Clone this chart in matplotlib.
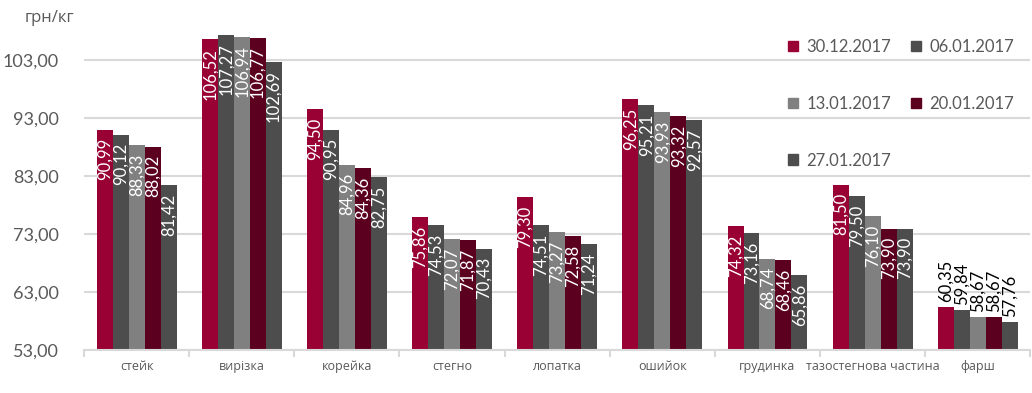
import matplotlib
matplotlib.use("Agg")
import matplotlib.pyplot as plt
from matplotlib.patches import Patch
import numpy as np

categories = ["стейк", "вирізка", "корейка", "стегно", "лопатка", "ошийок",
              "грудинка", "тазостегнова частина", "фарш"]
series_names = ["30.12.2017", "06.01.2017", "13.01.2017", "20.01.2017", "27.01.2017"]
s1 = [90.99, 106.52, 94.50, 75.86, 79.30, 96.25, 74.32, 81.50, 60.35]
s2 = [90.12, 107.27, 90.95, 74.53, 74.51, 95.21, 73.16, 79.50, 59.84]
s3 = [88.33, 106.94, 84.96, 72.07, 73.27, 93.93, 68.74, 76.10, 58.67]
s4 = [88.02, 106.77, 84.36, 71.87, 72.58, 93.32, 68.46, 73.90, 58.67]
s5 = [81.42, 102.69, 82.75, 70.43, 71.24, 92.57, 65.86, 73.90, 57.76]
yticks = [53, 63, 73, 83, 93, 103]

series = [s1, s2, s3, s4, s5]
colors = ["#990033", "#4d4d4d", "#808080", "#5c0020", "#4d4d4d"]

num_font = ["Lato", "Open Sans", "DejaVu Sans"]
cyr_font = ["Open Sans", "DejaVu Sans"]
plt.rcParams['font.family'] = num_font

fig = plt.figure(figsize=(10.32, 3.93), dpi=100)
ax = fig.add_axes([0.0814, 0.1094, 0.917, 0.827])

n = len(categories)
x = np.arange(n)
bw = 0.152
ymin = 53
for i, (vals, c) in enumerate(zip(series, colors)):
    pos = x + (i - 2) * bw
    heights = [v - ymin for v in vals]
    ax.bar(pos, heights, width=bw, bottom=ymin, color=c, zorder=2)
    for px, v in zip(pos, vals):
        lab = f"{v:.2f}".replace(".", ",")
        if v - ymin > 12:
            ax.annotate(lab, (px, v), xytext=(0, -6), textcoords="offset points",
                        rotation=90, ha="center", va="top", color="white",
                        fontsize=12, zorder=3)
        else:
            ax.annotate(lab, (px, v), xytext=(0, 4), textcoords="offset points",
                        rotation=90, ha="center", va="bottom", color="black",
                        fontsize=12, zorder=3)

ax.set_xlim(-0.5, n - 0.5)
ax.set_ylim(53, 109.0)
ax.set_yticks(yticks)
ax.set_yticklabels([f"{t:.2f}".replace(".", ",") for t in yticks],
                   fontsize=13, color="#595959")
ax.yaxis.grid(True, color="#d9d9d9", linewidth=1.5, zorder=0)
ax.set_axisbelow(True)
ax.tick_params(axis="y", length=0, pad=18)

ax.set_xticks(x)
ax.set_xticklabels(categories, fontsize=9, color="#595959", family=cyr_font)
ax.tick_params(axis="x", length=0, pad=7)
ax.set_xticks(np.arange(-0.5, n, 1.0), minor=True)
ax.tick_params(axis="x", which="minor", length=5, color="#d9d9d9", width=1.5)

for s in ["top", "right", "left"]:
    ax.spines[s].set_visible(False)
ax.spines["bottom"].set_color("#d9d9d9")
ax.spines["bottom"].set_linewidth(1.5)

fig.text(0.024, 0.955, "грн/кг", fontsize=12, color="#595959", family=cyr_font,
         va="center", ha="left")

handles = [Patch(color=c) for c in colors]
order = [0, 2, 4, 1, 3]
leg = ax.legend([handles[i] for i in order], [series_names[i] for i in order],
                ncol=2, loc="upper left", bbox_to_anchor=(0.757, 0.918),
                bbox_transform=fig.transFigure, frameon=False, fontsize=12,
                handlelength=0.6, handleheight=0.6, handletextpad=0.5,
                labelspacing=2.45, columnspacing=1.2, borderaxespad=0)
for t in leg.get_texts():
    t.set_color("#595959")

fig.savefig("out.png", dpi=100)
